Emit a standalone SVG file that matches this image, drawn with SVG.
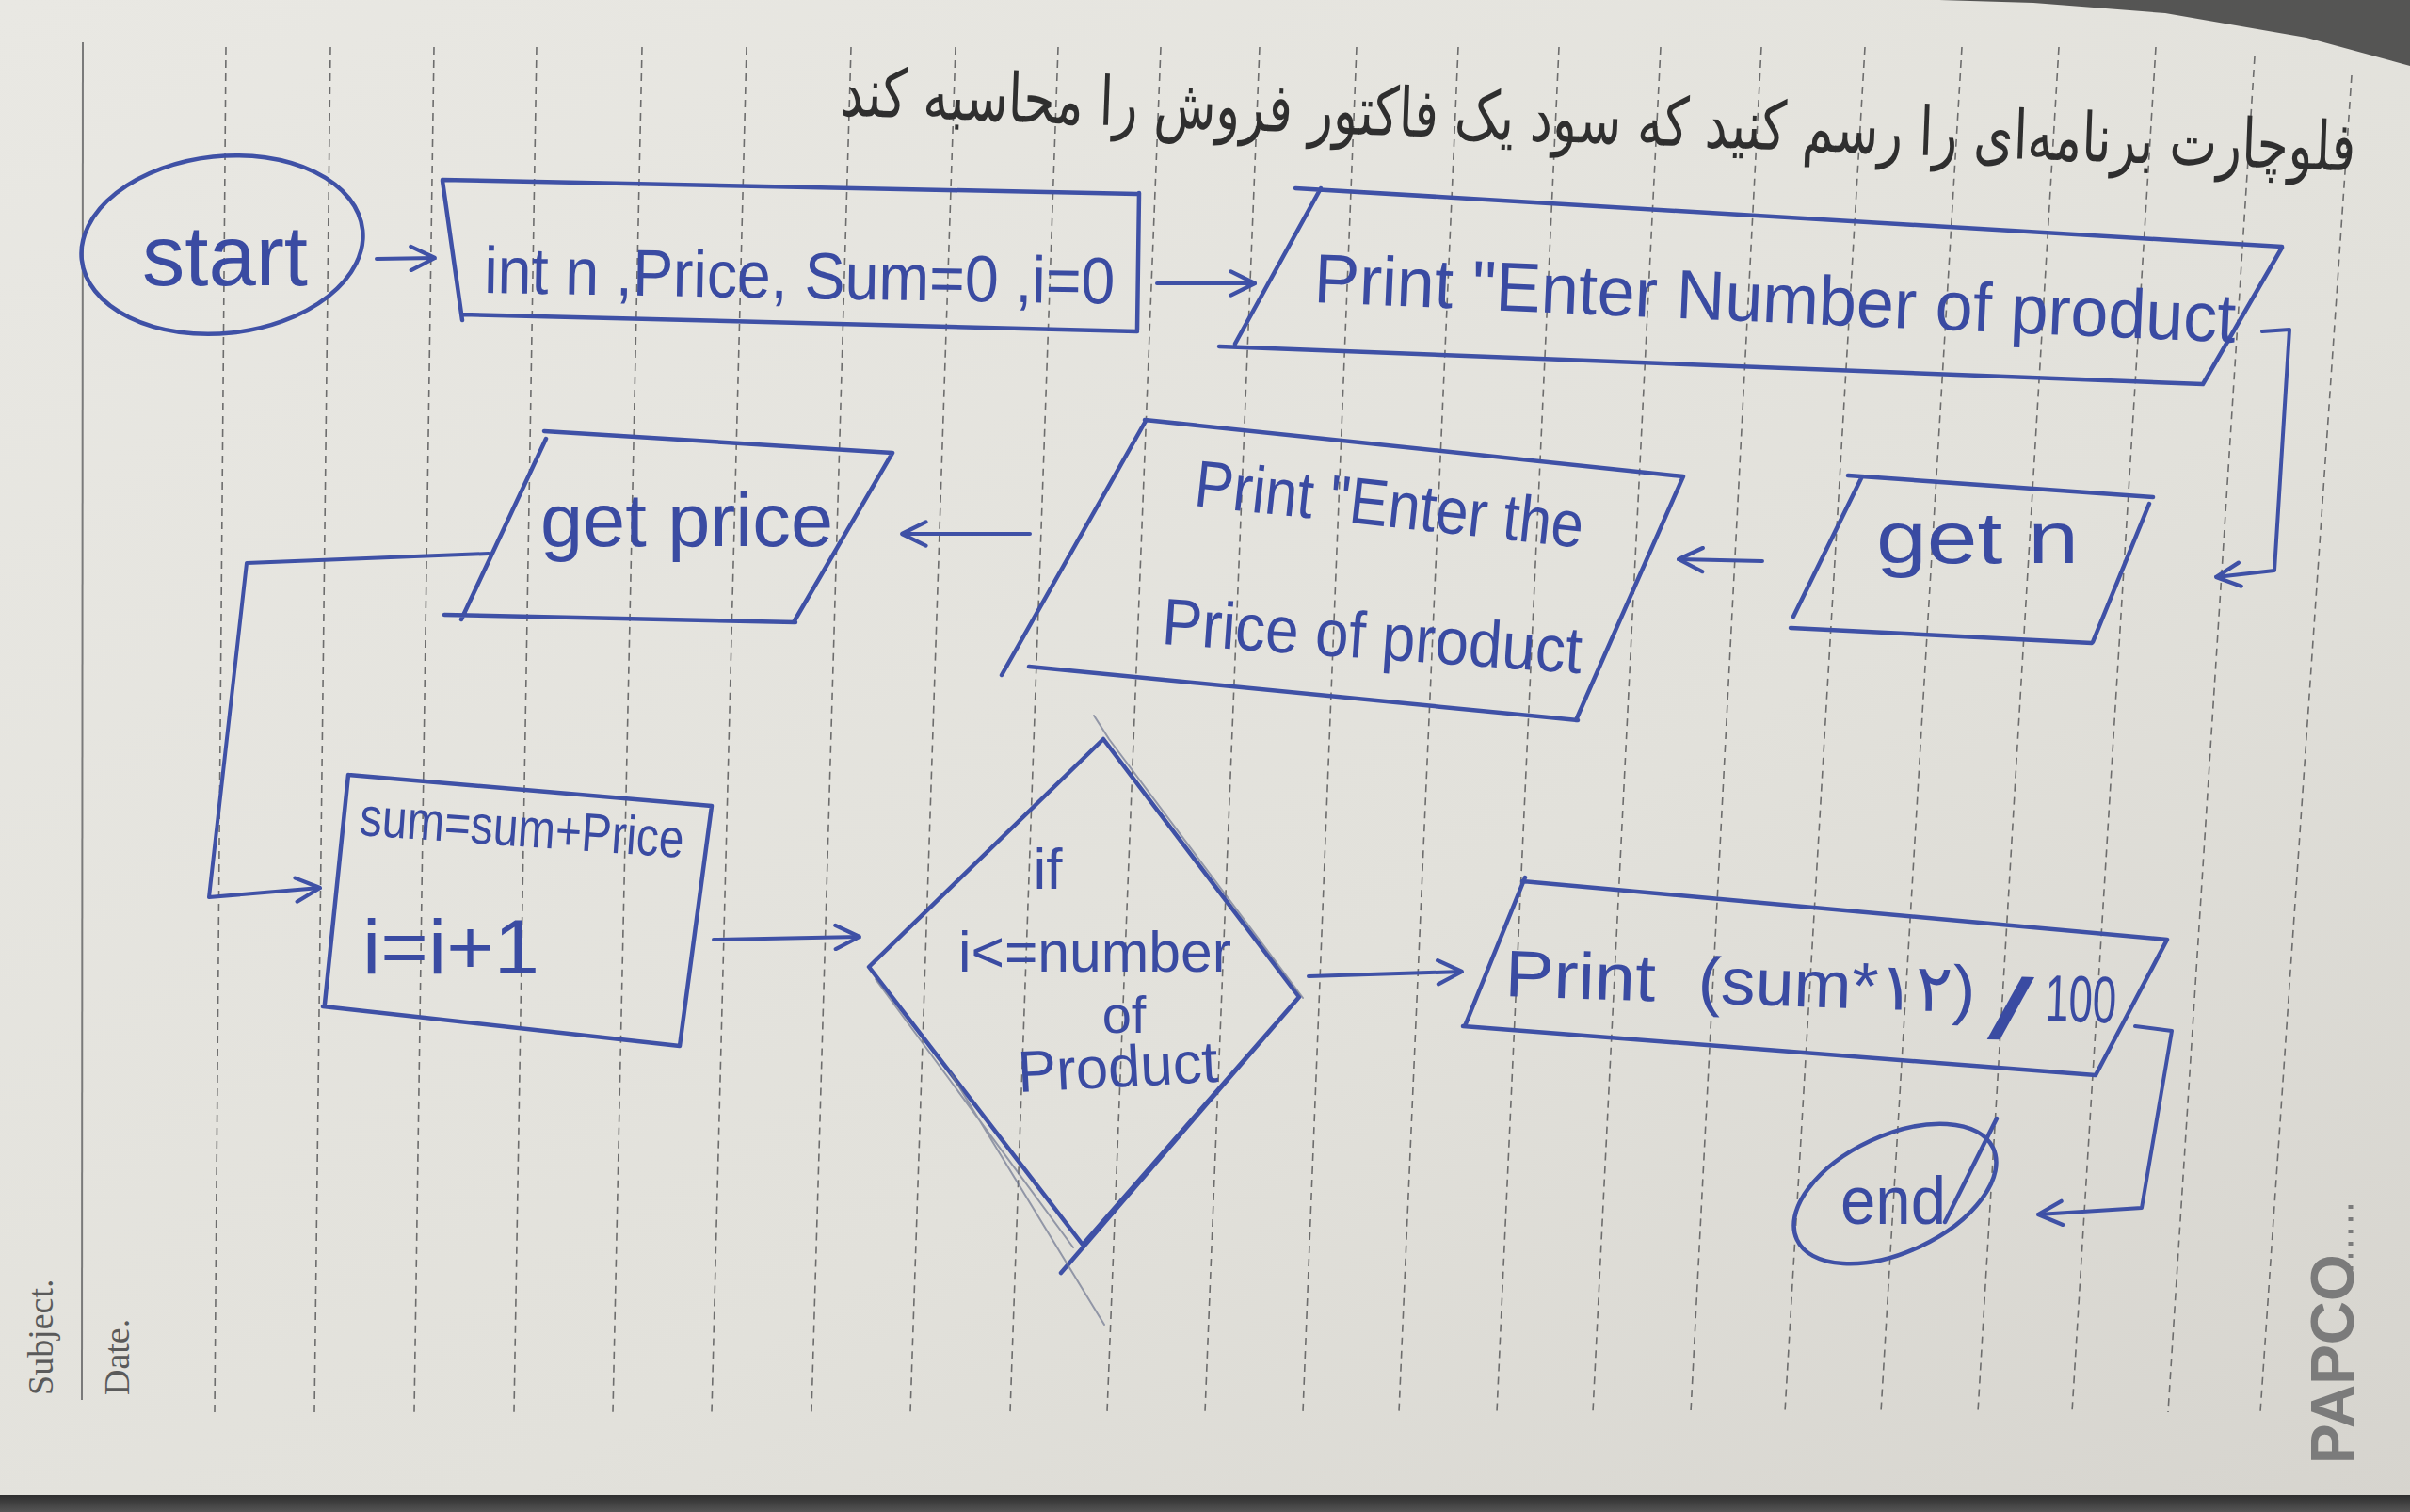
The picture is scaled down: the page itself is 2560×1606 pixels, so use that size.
<svg xmlns="http://www.w3.org/2000/svg" width="2560" height="1606" viewBox="0 0 2560 1606">
<defs>
<linearGradient id="paper" x1="0" y1="0" x2="1" y2="1">
<stop offset="0" stop-color="#e9e8e3"/>
<stop offset="0.6" stop-color="#e2e1db"/>
<stop offset="1" stop-color="#d6d4ce"/>
</linearGradient>
<linearGradient id="shade" x1="0" y1="0" x2="0" y2="1">
<stop offset="0" stop-color="#2e2e2e"/>
<stop offset="1" stop-color="#555"/>
</linearGradient>
<marker id="arr" viewBox="0 0 10 10" refX="9.5" refY="5" markerWidth="30" markerHeight="30" markerUnits="userSpaceOnUse" orient="auto">
<path d="M1,0.8 L9.5,5 L1,9.2" fill="none" stroke="#3f51a6" stroke-width="1.4" stroke-linecap="round" stroke-linejoin="round"/>
</marker>
<style>
.ink{fill:none;stroke:#3f51a6;stroke-width:4.5;stroke-linecap:round;stroke-linejoin:round}
.thin{fill:none;stroke:#6f7690;stroke-width:2;stroke-linecap:round;opacity:0.7}
.con{fill:none;stroke:#3f51a6;stroke-width:4;stroke-linecap:round;stroke-linejoin:round}
.txt{font-family:"Liberation Sans","DejaVu Sans",sans-serif;fill:#3a4ba2}
.fa{font-family:"DejaVu Sans","Noto Sans",sans-serif;fill:#2f2f2f}
.dash{stroke:#6d6d6d;stroke-width:1.6;stroke-dasharray:8 6;fill:none}
.print{font-family:"Liberation Serif",serif;fill:#5a5a5a}
</style>
</defs>

<g id="paper-bg">
<rect x="0" y="0" width="2560" height="1606" fill="url(#paper)"/>
<polygon points="2060,0 2560,0 2560,70 2450,40 2300,14 2160,3" fill="#3c3c3c" opacity="0.85"/>
<rect x="0" y="1588" width="2560" height="18" fill="url(#shade)"/>
<line x1="88" y1="45" x2="87" y2="1487" stroke="#7a7a7a" stroke-width="2"/>
<g class="dash">
<line x1="240" y1="50" x2="228" y2="1500"/>
<line x1="351" y1="50" x2="334" y2="1500"/>
<line x1="461" y1="50" x2="440" y2="1500"/>
<line x1="570" y1="50" x2="546" y2="1500"/>
<line x1="682" y1="50" x2="651" y2="1500"/>
<line x1="793" y1="50" x2="756" y2="1500"/>
<line x1="904" y1="50" x2="862" y2="1500"/>
<line x1="1015" y1="50" x2="967" y2="1500"/>
<line x1="1124" y1="50" x2="1073" y2="1500"/>
<line x1="1233" y1="50" x2="1176" y2="1500"/>
<line x1="1338" y1="50" x2="1280" y2="1500"/>
<line x1="1441" y1="50" x2="1384" y2="1500"/>
<line x1="1549" y1="50" x2="1486" y2="1500"/>
<line x1="1656" y1="50" x2="1590" y2="1500"/>
<line x1="1764" y1="50" x2="1692" y2="1500"/>
<line x1="1871" y1="50" x2="1796" y2="1500"/>
<line x1="1981" y1="50" x2="1896" y2="1500"/>
<line x1="2084" y1="50" x2="1998" y2="1500"/>
<line x1="2187" y1="50" x2="2101" y2="1500"/>
<line x1="2290" y1="50" x2="2201" y2="1500"/>
<line x1="2395" y1="60" x2="2303" y2="1500"/>
<line x1="2498" y1="80" x2="2401" y2="1500"/>
</g>
<text class="print" transform="translate(56,1482) rotate(-90)" font-size="38">Subject.</text>
<text class="print" transform="translate(137,1482) rotate(-90)" font-size="38">Date.</text>
<text transform="translate(2500,1555) rotate(-90)" font-family="Liberation Sans, sans-serif" font-weight="bold" font-size="64" fill="#7b7b7b">PAPCO</text>
<line x1="2497" y1="1362" x2="2497" y2="1272" stroke="#7b7b7b" stroke-width="5" stroke-dasharray="4 9"/>
</g>

<g id="title">
<text class="fa" x="1697" y="152" font-size="72" text-anchor="middle" textLength="1610" lengthAdjust="spacingAndGlyphs" transform="rotate(2.1 1697 152)">فلوچارت برنامه‌ای را رسم کنید که سود یک فاکتور فروش را محاسبه کند</text>
</g>

<g id="connectors">
<line class="con" x1="400" y1="275" x2="462" y2="274" marker-end="url(#arr)"/>
<line class="con" x1="1229" y1="301" x2="1333" y2="301" marker-end="url(#arr)"/>
<polyline class="con" points="2403,352 2432,350 2416,606 2354,613" marker-end="url(#arr)"/>
<line class="con" x1="1872" y1="596" x2="1783" y2="594" marker-end="url(#arr)"/>
<line class="con" x1="1094" y1="567" x2="958" y2="567" marker-end="url(#arr)"/>
<polyline class="con" points="519,588 262,598 222,953 340,943" marker-end="url(#arr)"/>
<line class="con" x1="758" y1="998" x2="913" y2="995" marker-end="url(#arr)"/>
<line class="con" x1="1390" y1="1037" x2="1553" y2="1032" marker-end="url(#arr)"/>
<polyline class="con" points="2268,1090 2307,1095 2275,1283 2165,1290" marker-end="url(#arr)"/>
</g>

<g id="start">
<ellipse class="ink" cx="236" cy="260" rx="150" ry="94" transform="rotate(-6 236 260)"/>
<text class="txt" x="151" y="303" font-size="90" textLength="176" lengthAdjust="spacingAndGlyphs">start</text>
</g>

<g id="init">
<path class="ink" d="M470,191 L1208,206 M1210,205 L1208,350 M491,334 L1208,352 M470,192 L491,340"/>
<text class="txt" x="514" y="311" font-size="70" textLength="670" lengthAdjust="spacingAndGlyphs" transform="rotate(1 514 311)">int n ,Price, Sum=0 ,i=0</text>
</g>

<g id="print-enter-number">
<path class="ink" d="M1376,200 L2424,262 M2424,263 L2340,408 M1295,368 L2340,408 M1403,200 L1312,365"/>
<text class="txt" x="1395" y="321" font-size="74" textLength="980" lengthAdjust="spacingAndGlyphs" transform="rotate(2.5 1395 321)">Print "Enter Number of product</text>
</g>

<g id="get-n">
<path class="ink" d="M1963,505 L2287,528 M2283,535 L2223,682 M1902,667 L2222,683 M1977,508 L1905,655"/>
<text class="txt" x="1993" y="598" font-size="78" textLength="215" lengthAdjust="spacingAndGlyphs">get n</text>
</g>

<g id="print-enter-price">
<path class="ink" d="M1216,446 L1788,506 M1788,506 L1674,765 M1093,708 L1676,765 M1217,447 L1064,717"/>
<text class="txt" x="1267" y="537" font-size="70" textLength="415" lengthAdjust="spacingAndGlyphs" transform="rotate(6.2 1267 537)">Print "Enter the</text>
<text class="txt" x="1233" y="684" font-size="70" textLength="447" lengthAdjust="spacingAndGlyphs" transform="rotate(4 1233 684)">Price of product</text>
</g>

<g id="get-price">
<path class="ink" d="M578,458 L948,481 M948,481 L843,661 M472,653 L845,661 M580,466 L490,658"/>
<text class="txt" x="574" y="580" font-size="80" textLength="311" lengthAdjust="spacingAndGlyphs">get price</text>
</g>

<g id="update">
<path class="ink" d="M370,823 L756,856 M756,856 L722,1111 M343,1069 L722,1111 M370,823 L345,1066"/>
<text class="txt" x="381" y="887" font-size="58" textLength="345" lengthAdjust="spacingAndGlyphs" transform="rotate(4 381 887)">sum=sum+Price</text>
<text class="txt" x="385" y="1034" font-size="82" textLength="188" lengthAdjust="spacingAndGlyphs">i=i+1</text>
</g>

<g id="decision">
<path class="ink" d="M1172,785 L1380,1059 L1150,1322 L923,1027 Z M1380,1059 L1127,1352"/>
<path class="thin" d="M1162,760 L1178,785 L1384,1060 M1010,1140 L1173,1407 M930,1040 L1140,1325"/>
<text class="txt" x="1113" y="944" font-size="62" text-anchor="middle">if</text>
<text class="txt" x="1018" y="1032" font-size="62" textLength="290" lengthAdjust="spacingAndGlyphs">i&lt;=number</text>
<text class="txt" x="1194" y="1097" font-size="56" text-anchor="middle">of</text>
<text class="txt" x="1082" y="1160" font-size="62" textLength="213" lengthAdjust="spacingAndGlyphs" transform="rotate(-3 1082 1160)">Product</text>
</g>

<g id="print-result">
<path class="ink" d="M1617,936 L2302,998 M2302,998 L2226,1142 M1554,1090 L2226,1142 M1620,932 L1556,1090"/>
<text class="txt" y="1058" font-size="70" transform="rotate(2 1598 1058)"><tspan x="1598" textLength="160" lengthAdjust="spacingAndGlyphs">Print</tspan><tspan x="1803" textLength="295" lengthAdjust="spacingAndGlyphs">(sum*۱۲)</tspan><tspan x="2112" y="1085" font-size="92" textLength="48" lengthAdjust="spacingAndGlyphs">/</tspan><tspan x="2172" y="1064" textLength="76" lengthAdjust="spacingAndGlyphs">100</tspan></text>
</g>

<g id="end">
<ellipse class="ink" cx="2013" cy="1268" rx="115" ry="62" transform="rotate(-25 2013 1268)"/>
<text class="txt" x="1955" y="1300" font-size="72" textLength="112" lengthAdjust="spacingAndGlyphs">end</text>
<line class="ink" x1="2121" y1="1188" x2="2066" y2="1298" stroke-width="3.5"/>
</g>
</svg>
